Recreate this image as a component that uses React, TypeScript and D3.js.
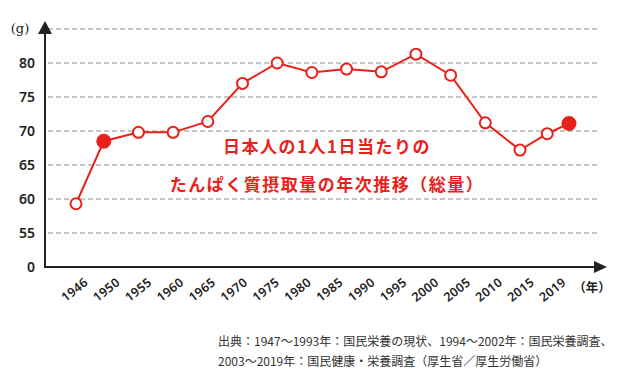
import React from "react";
import * as d3 from "d3";

const years = [1946, 1950, 1955, 1960, 1965, 1970, 1975, 1980, 1985, 1990, 1995, 2000, 2005, 2010, 2015, 2019];
const protein = [59.3, 68.5, 69.8, 69.8, 71.4, 77.0, 80.0, 78.6, 79.1, 78.7, 81.3, 78.2, 71.2, 67.2, 69.6, 71.1];
const highlighted = [1950, 2019];
const yTickValues = [50, 55, 60, 65, 70, 75, 80];
const yTickLabels = ["0", "55", "60", "65", "70", "75", "80"];
const gridValues = [55, 60, 65, 70, 75, 80, 85];
const titleLines = ["日本人の1人1日当たりの", "たんぱく質摂取量の年次推移（総量）"];
const sourceLines = [
  "出典：1947〜1993年：国民栄養の現状、1994〜2002年：国民栄養調査、",
  "2003〜2019年：国民健康・栄養調査（厚生省／厚生労働省）",
];

const RED = "#e8211a";
const DARK = "#222";
const NUM_FONT = "'Noto Sans', 'Open Sans', sans-serif";
const JP_FONT = "'Noto Sans CJK JP', sans-serif";

export default function App() {
  const W = 620, H = 380;
  const axisX = 45, axisY = 267;
  const y = d3.scaleLinear().domain([50, 85]).range([267, 29]);
  const x = d3.scaleLinear().domain([1946, 2010, 2019]).range([76, 520, 569]);
  const xLabel = d3.scalePoint<string>().domain(years.map(String)).range([89, 567]);

  const line = d3.line<number>()
    .x((_, i) => x(years[i]))
    .y((d) => y(d));

  return (
    <svg width={W} height={H} style={{ position: "absolute", left: 0, top: 0, background: "#fff" }}>
      {/* grid */}
      {gridValues.map((v) => (
        <line key={v} x1={48} x2={599} y1={y(v)} y2={y(v)} stroke="#b3b3b3" strokeWidth={1.3} strokeDasharray="5,3" />
      ))}
      {/* axes */}
      <line x1={axisX} x2={axisX} y1={axisY + 1} y2={32} stroke={DARK} strokeWidth={2} />
      <path d={`M${axisX},21 L${axisX - 7},34 L${axisX + 7},34 Z`} fill={DARK} />
      <line x1={axisX - 1} x2={596} y1={axisY} y2={axisY} stroke={DARK} strokeWidth={2} />
      <path d={`M607,${axisY} L594,${axisY - 6} L594,${axisY + 6} Z`} fill={DARK} />

      {/* y ticks */}
      {yTickValues.map((v, i) => (
        <text key={v} x={35} y={y(v)} dy="0.36em" textAnchor="end" fontFamily={NUM_FONT} fontSize={14} fontWeight={600} fill={DARK}>
          {yTickLabels[i]}
        </text>
      ))}
      <text x={20} y={33} textAnchor="middle" fontFamily="'DejaVu Serif', serif" fontSize={13} fill={DARK}>(g)</text>

      {/* x tick labels */}
      {years.map((yr) => {
        const px = xLabel(String(yr))!;
        return (
          <text key={yr} x={px} y={284} textAnchor="end" fontFamily={NUM_FONT} fontSize={12.5} fontWeight={600} fill={DARK}
            letterSpacing={0.3} transform={`rotate(-38 ${px} 284)`}>
            {yr}
          </text>
        );
      })}
      <text x={592} y={292} textAnchor="middle" fontFamily={JP_FONT} fontSize={12.5} fontWeight={700} fill={DARK}>（年）</text>

      {/* line */}
      <path d={line(protein) || ""} fill="none" stroke={RED} strokeWidth={2} />
      {protein.map((v, i) => {
        const hi = highlighted.includes(years[i]);
        return (
          <circle key={years[i]} cx={x(years[i])} cy={y(v)} r={hi ? 6.5 : 5.5}
            fill={hi ? RED : "#fff"} stroke={RED} strokeWidth={2} />
        );
      })}

      {/* title */}
      {titleLines.map((t, i) => (
        <text key={i} x={327} y={147 + i * 38} dy="0.35em" textAnchor="middle" fontFamily={JP_FONT} fontSize={17} fontWeight={700}
          fill={RED} letterSpacing={1.5}>
          {t}
        </text>
      ))}

      {/* source */}
      {sourceLines.map((t, i) => (
        <text key={i} x={218} y={342 + i * 20} dy="0.35em" fontFamily={JP_FONT} fontSize={12} fill="#333">
          {t}
        </text>
      ))}
    </svg>
  );
}
